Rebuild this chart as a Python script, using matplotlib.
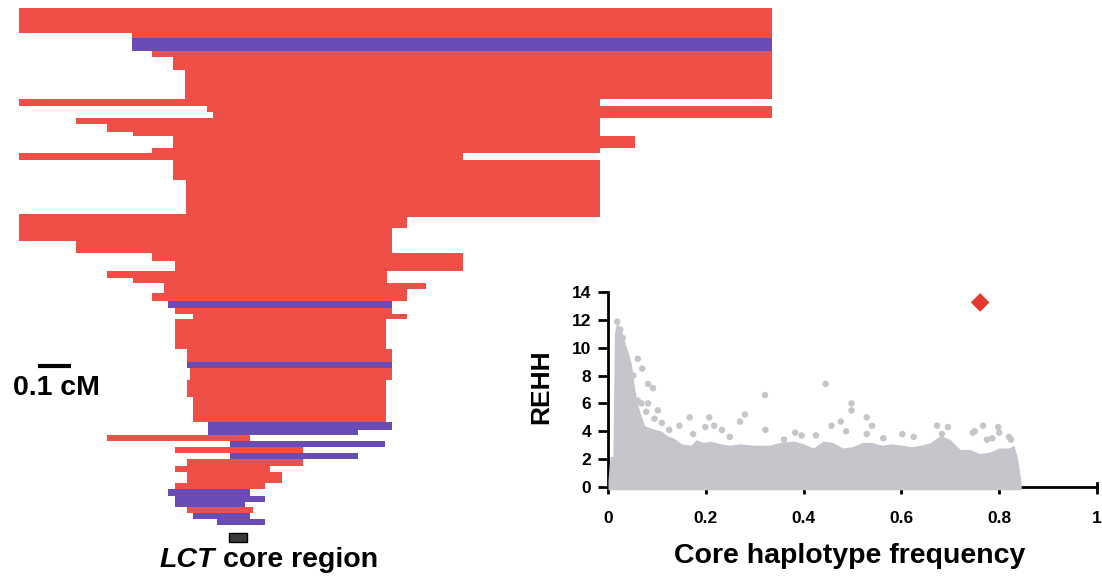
import matplotlib
matplotlib.use("Agg")
import matplotlib.pyplot as plt
import matplotlib.transforms as mtransforms
from matplotlib.patches import Rectangle

plt.rcParams['font.family'] = ['Liberation Sans', 'DejaVu Sans']
plt.rcParams['font.weight'] = 'bold'

# ---- left panel: haplotype extents around the LCT core (cM from core centre)
# one entry per block of haplotypes, top to bottom
row_height = [4.2, 0.8, 2.2, 1.0, 2.2, 4.8, 1.2, 1.0, 1.0, 1.0, 1.2, 0.8, 2.0, 0.8,
              1.2, 3.3, 5.7, 0.5, 1.8, 2.2, 2.0, 1.2, 1.7, 1.3, 0.7, 1.0, 0.8, 1.2,
              1.2, 1.0, 0.8, 5.0, 2.3, 1.0, 2.0, 2.8, 4.2, 1.3, 0.8, 1.0, 1.0, 1.0,
              1.0, 1.2, 1.0, 1.8, 1.0, 1.2, 1.0, 0.8, 1.0, 1.0, 1.0]
hap_left = [-0.664, -0.321, -0.321, -0.261, -0.197, -0.161, -0.664, -0.094, -0.076,
            -0.491, -0.397, -0.318, -0.197, -0.261, -0.664, -0.197, -0.158, -0.664,
            -0.664, -0.664, -0.491, -0.261, -0.191, -0.397, -0.318, -0.224, -0.224,
            -0.261, -0.212, -0.191, -0.136, -0.191, -0.155, -0.155, -0.145, -0.155,
            -0.136, -0.091, -0.091, -0.397, -0.024, -0.191, -0.024, -0.155, -0.191,
            -0.155, -0.191, -0.212, -0.191, -0.191, -0.155, -0.136, -0.064]
hap_right = [1.618, 1.618, 1.618, 1.618, 1.618, 1.618, 1.097, 1.618, 1.618, 1.097,
             1.097, 1.097, 1.203, 1.097, 0.682, 1.097, 1.097, 1.097, 0.512, 0.467,
             0.467, 0.682, 0.682, 0.452, 0.452, 0.570, 0.512, 0.512, 0.467, 0.467,
             0.512, 0.448, 0.467, 0.467, 0.467, 0.448, 0.448, 0.467, 0.364, 0.036,
             0.445, 0.197, 0.364, 0.197, 0.097, 0.133, 0.082, 0.036, 0.082, 0.021,
             0.045, 0.036, 0.082]
hap_core = ['A', 'A', 'B', 'A', 'A', 'A', 'A', 'A', 'A', 'A', 'A', 'A', 'A', 'A',
            'A', 'A', 'A', 'A', 'A', 'A', 'A', 'A', 'A', 'A', 'A', 'A', 'A', 'A',
            'B', 'A', 'A', 'A', 'A', 'B', 'A', 'A', 'A', 'B', 'B', 'A', 'B', 'A',
            'B', 'A', 'A', 'A', 'A', 'B', 'B', 'B', 'A', 'B', 'B']
core_start, core_end = -0.027, 0.027
scale_start, scale_len = -0.606, 0.1

# ---- right panel: REHH vs core haplotype frequency
# upper edge of the dense cloud of points
cloud_x = [0.000, 0.004, 0.010, 0.013, 0.018, 0.024, 0.030, 0.036, 0.042, 0.048,
           0.054, 0.060, 0.066, 0.075, 0.090, 0.110, 0.120, 0.135, 0.150,
           0.170, 0.180, 0.195, 0.210, 0.230, 0.250, 0.270, 0.300, 0.330, 0.350,
           0.380, 0.400, 0.420, 0.440, 0.460, 0.480, 0.500, 0.520, 0.540, 0.560,
           0.580, 0.600, 0.620, 0.640, 0.660, 0.680, 0.700, 0.720, 0.740, 0.760,
           0.780, 0.800, 0.820, 0.830, 0.838, 0.842, 0.845]
cloud_top = [0.5, 2.2, 2.2, 11.0, 11.9, 11.4, 11.0, 10.2, 9.6, 8.8,
             7.2, 6.0, 5.3, 4.4, 4.2, 4.0, 3.7, 3.5, 3.1,
             3.0, 3.4, 3.2, 3.3, 3.1, 3.0, 3.1, 3.0, 3.0, 3.2,
             3.3, 3.1, 2.8, 3.3, 3.2, 2.8, 2.9, 3.2, 3.2, 3.0,
             3.1, 3.0, 2.9, 3.0, 3.2, 3.7, 3.4, 2.7, 2.7, 2.4,
             2.5, 2.8, 2.8, 3.0, 2.0, 1.0, 0.3]
# scattered points above the cloud
out_x = [0.019, 0.025, 0.030, 0.061, 0.070, 0.082, 0.092, 0.052, 0.048, 0.061,
         0.082, 0.102, 0.078, 0.146, 0.167, 0.174, 0.199, 0.207, 0.217, 0.233,
         0.249, 0.270, 0.280, 0.321, 0.322, 0.360, 0.383, 0.396, 0.425, 0.445,
         0.457, 0.476, 0.487, 0.498, 0.498, 0.529, 0.540, 0.529, 0.563, 0.602,
         0.625, 0.673, 0.683, 0.695, 0.746, 0.767, 0.798, 0.800, 0.820, 0.786,
         0.775, 0.750, 0.824, 0.068, 0.095, 0.110, 0.125]
out_y = [11.87, 11.3, 10.7, 9.2, 8.5, 7.4, 7.1, 8.0, 7.1, 6.2,
         6.0, 5.5, 5.4, 4.4, 5.0, 3.8, 4.3, 5.0, 4.4, 4.1,
         3.6, 4.7, 5.2, 6.6, 4.1, 3.4, 3.9, 3.7, 3.7, 7.4,
         4.4, 4.7, 4.0, 6.0, 5.5, 5.0, 4.4, 3.8, 3.5, 3.8,
         3.6, 4.4, 3.8, 4.3, 3.9, 4.4, 4.3, 3.9, 3.6, 3.5,
         3.4, 4.0, 3.4, 6.0, 4.9, 4.6, 4.1]
lct_freq, lct_rehh = 0.761, 13.25
x_ticks = [0, 0.2, 0.4, 0.6, 0.8, 1]
x_tick_labels = ['0', '0.2', '0.4', '0.6', '0.8', '1']
y_ticks = [0, 2, 4, 6, 8, 10, 12, 14]

core_colors = {'A': '#ef4f46', 'B': '#6b4cb6'}
grey = '#c6c5cc'

W, H = 1102, 578
fig = plt.figure(figsize=(W / 100, H / 100), dpi=100)

# left panel
axl = fig.add_axes([19 / W, 1 - 525 / H, 753 / W, 517 / H])
axl.set_facecolor('none')
tops = [sum(row_height[:i]) for i in range(len(row_height))]
for t, h, l, r, c in zip(tops, row_height, hap_left, hap_right, hap_core):
    axl.barh(t + h / 2, r - l, left=l, height=h, color=core_colors[c], linewidth=0)
axl.set_xlim(hap_left[0], hap_right[0])
axl.set_ylim(sum(row_height), 0)
axl.axis('off')

blend = mtransforms.blended_transform_factory(axl.transData, fig.transFigure)
axl.plot([scale_start, scale_start + scale_len], [1 - 366 / H, 1 - 366 / H],
         color='black', lw=3, transform=blend, clip_on=False, solid_capstyle='butt')
axl.add_patch(Rectangle((core_start, 1 - 542 / H), core_end - core_start, 9 / H,
                        transform=blend, facecolor='#3a3a3a', edgecolor='black',
                        lw=1, clip_on=False))
fig.text(13 / W, 1 - 388 / H, '0.1 cM', fontsize=20.5, fontweight='bold',
         ha='left', va='center')
fig.text(215 / W, 1 - 567 / H, 'LCT', fontsize=20.5, fontweight='bold',
         fontstyle='italic', ha='right', va='baseline')
fig.text(223 / W, 1 - 567 / H, 'core region', fontsize=20.5, fontweight='bold',
         ha='left', va='baseline')

# right panel
axr = fig.add_axes([608 / W, 91 / H, 489 / W, 195 / H])
axr.set_facecolor('none')
axr.fill_between(cloud_x, -0.2, cloud_top, color=grey, lw=0, zorder=3, clip_on=False)
axr.scatter(out_x, out_y, s=22, color=grey, edgecolors='none', zorder=3, clip_on=False)
axr.scatter([lct_freq], [lct_rehh], s=90, marker='D', color='#e5392d',
            edgecolors='none', zorder=4, clip_on=False)
axr.set_xlim(0, 1)
axr.set_ylim(0, 14)
axr.spines['top'].set_visible(False)
axr.spines['right'].set_bounds(0, 0.3)
for s in ['left', 'bottom', 'right']:
    axr.spines[s].set_linewidth(2)
    axr.spines[s].set_zorder(2)
axr.set_xticks(x_ticks)
axr.set_xticklabels(x_tick_labels)
axr.set_yticks(y_ticks)
axr.tick_params(axis='x', direction='out', length=5, width=2, pad=12, labelsize=12.5)
axr.tick_params(axis='y', direction='out', length=7, width=2, pad=5, labelsize=12.5)
for lab in axr.get_xticklabels() + axr.get_yticklabels():
    lab.set_fontweight('bold')
fig.text(541 / W, 1 - 387 / H, 'REHH', fontsize=19, fontweight='bold',
         rotation=90, ha='center', va='center')
fig.text(850 / W, 1 - 563 / H, 'Core haplotype frequency', fontsize=20.5,
         fontweight='bold', ha='center', va='baseline')

fig.savefig('out.png', dpi=100)
